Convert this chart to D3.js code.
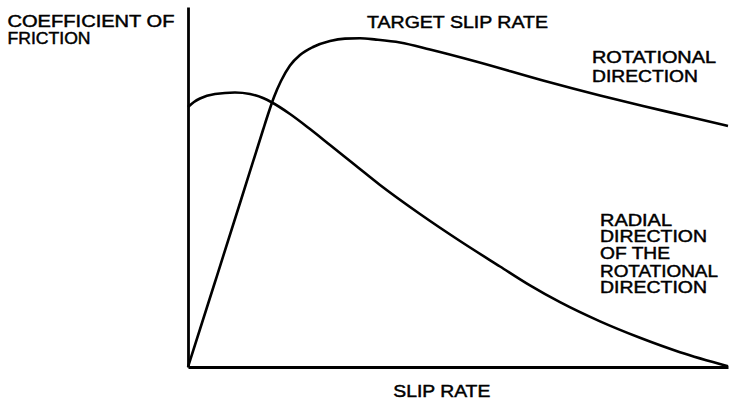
<!DOCTYPE html>
<html>
<head>
<meta charset="utf-8">
<script src="https://cdn.jsdelivr.net/npm/d3@7"></script>
<style>
  html, body { margin: 0; padding: 0; background: #fff; }
  svg { display: block; }
  text { font-family: "Liberation Sans", Arial, Helvetica, sans-serif; font-size: 16px; fill: #000; }
</style>
</head>
<body>
<svg id="chart" width="752" height="404"></svg>
<script>
// Slip rate (x, 0..100) vs coefficient of friction (y, 0..100)
const rotationalX = [0, 5.00, 9.81, 13.89, 14.81, 15.93, 17.22, 18.89, 20.74, 23.15, 26.30, 29.07, 31.85, 34.81, 39.26, 44.81, 53.33, 65.74, 76.30, 84.26, 92.96, 100];
const rotationalY = [0, 23.61, 46.39, 65.83, 70.14, 75.00, 79.44, 83.75, 86.67, 88.89, 90.56, 91.22, 91.31, 90.94, 90.14, 88.19, 84.86, 79.58, 75.42, 72.50, 69.44, 66.94];

const radialX = [0, 1.11, 2.22, 5.00, 8.70, 11.48, 13.89, 15.56, 18.89, 22.59, 26.30, 30.93, 35.56, 42.96, 50.37, 57.78, 63.33, 68.89, 76.30, 83.70, 91.11, 100];
const radialY = [72.22, 73.61, 74.58, 75.83, 76.25, 75.83, 74.72, 73.47, 70.28, 66.11, 61.67, 56.11, 50.56, 42.50, 35.00, 27.92, 22.67, 18.00, 12.67, 8.11, 4.11, 0.22];

const yAxisTitle = ["COEFFICIENT OF", "FRICTION"];
const xAxisTitle = ["SLIP RATE"];
const targetLabel = ["TARGET SLIP RATE"];
const rotationalLabel = ["ROTATIONAL", "DIRECTION"];
const radialLabel = ["RADIAL", "DIRECTION", "OF THE", "ROTATIONAL", "DIRECTION"];

const svg = d3.select("#chart");
const x = d3.scaleLinear().domain([0, 100]).range([188, 728]);
const y = d3.scaleLinear().domain([0, 100]).range([367, 7]);

// axes (plain lines, no ticks)
const xAxis = d3.axisBottom(x).tickValues([]).tickSizeOuter(0);
const yAxis = d3.axisLeft(y).tickValues([]).tickSizeOuter(0);
svg.append("g").attr("transform", `translate(0,${y(0)})`).call(xAxis)
  .select(".domain").attr("stroke", "#000").attr("stroke-width", 2.8);
svg.append("g").attr("transform", `translate(${x(0)},0)`).call(yAxis)
  .select(".domain").attr("stroke", "#000").attr("stroke-width", 2.8);

const line = d3.line().x(d => x(d[0])).y(d => y(d[1])).curve(d3.curveMonotoneX);

const rotational = rotationalX.map((v, i) => [v, rotationalY[i]]);
const radial = radialX.map((v, i) => [v, radialY[i]]);

svg.append("path").datum(rotational).attr("d", line)
  .attr("fill", "none").attr("stroke", "#000").attr("stroke-width", 2.6);
svg.append("path").datum(radial).attr("d", line)
  .attr("fill", "none").attr("stroke", "#000").attr("stroke-width", 2.6);

function label(lines, x0, baselines, widths) {
  lines.forEach((t, i) => {
    svg.append("text")
      .attr("x", x0).attr("y", baselines[i])
      .attr("textLength", widths[i]).attr("lengthAdjust", "spacingAndGlyphs")
      .attr("stroke", "#000").attr("stroke-width", 0.45)
      .text(t);
  });
}

label(yAxisTitle, 7.5, [26.7, 44.3], [167, 83]);
label(targetLabel, 367, [27.7], [181]);
label(rotationalLabel, 592, [63.3, 81.5], [124, 106]);
label(radialLabel, 600, [225.7, 242.3, 259, 276.6, 293.3], [72, 107, 70, 118, 107]);
label(xAxisTitle, 393.3, [396.7], [97]);
</script>
</body>
</html>
